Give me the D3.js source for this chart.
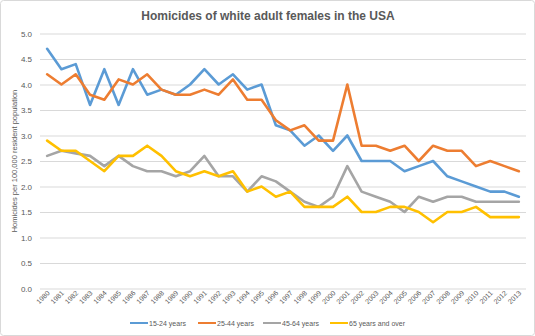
<!DOCTYPE html>
<html><head><meta charset="utf-8">
<script src="https://cdn.jsdelivr.net/npm/d3@7"></script>
<style>body{margin:0;background:#fff}svg{display:block;font-family:"Liberation Sans",Arial,sans-serif}</style>
</head><body><svg id="c" width="535" height="336"></svg>
<script>
const years = d3.range(1980, 2014).map(String);
const seriesNames = ["15-24 years","25-44 years","45-64 years","65 years and over"];
const colors = ["#5B9BD5","#ED7D31","#A5A5A5","#FFC000"];
const s15_24 = [4.7,4.3,4.4,3.6,4.3,3.6,4.3,3.8,3.9,3.8,4.0,4.3,4.0,4.2,3.9,4.0,3.2,3.1,2.8,3.0,2.7,3.0,2.5,2.5,2.5,2.3,2.4,2.5,2.2,2.1,2.0,1.9,1.9,1.8];
const s25_44 = [4.2,4.0,4.2,3.8,3.7,4.1,4.0,4.2,3.9,3.8,3.8,3.9,3.8,4.1,3.7,3.7,3.3,3.1,3.2,2.9,2.9,4.0,2.8,2.8,2.7,2.8,2.5,2.8,2.7,2.7,2.4,2.5,2.4,2.3];
const s45_64 = [2.6,2.7,2.65,2.6,2.4,2.6,2.4,2.3,2.3,2.2,2.3,2.6,2.2,2.2,1.9,2.2,2.1,1.9,1.7,1.6,1.8,2.4,1.9,1.8,1.7,1.5,1.8,1.7,1.8,1.8,1.7,1.7,1.7,1.7];
const s65 = [2.9,2.7,2.7,2.5,2.3,2.6,2.6,2.8,2.6,2.3,2.2,2.3,2.2,2.3,1.9,2.0,1.8,1.9,1.6,1.6,1.6,1.8,1.5,1.5,1.6,1.6,1.5,1.3,1.5,1.5,1.6,1.4,1.4,1.4];
const yTicks = [0,0.5,1,1.5,2,2.5,3,3.5,4,4.5,5];
const title = "Homicides of white adult females in the USA";
const yTitle = "Homicides per 100,000 resident population";
const allSeries = [s15_24, s25_44, s45_64, s65];

const svg = d3.select("#c");
svg.append("rect").attr("x",0.5).attr("y",0.5).attr("width",534).attr("height",335)
  .attr("rx",3).attr("fill","#fff").attr("stroke","#D9D9D9");

const m = {l:40, r:9, t:33.5, b:48};
const x = d3.scaleBand().domain(years).range([m.l, 535-m.r]);
const y = d3.scaleLinear().domain([0,5]).range([288.5, 33.5]);

svg.append("text").attr("x",268).attr("y",20).attr("text-anchor","middle")
  .attr("font-size",12).attr("font-weight","bold").attr("fill","#595959").text(title);

// grid
const gy = svg.append("g").attr("transform",`translate(${m.l},0)`)
  .call(d3.axisLeft(y).tickValues(yTicks).tickFormat(d3.format(".1f")).tickSize(-(535-m.r-m.l)).tickPadding(8));
gy.select(".domain").remove();
gy.selectAll(".tick line").attr("stroke","#D9D9D9");
gy.selectAll(".tick text").attr("fill","#595959").attr("font-size",8).attr("font-family","inherit");

// x axis
const gx = svg.append("g").attr("transform",`translate(0,${y(0)})`)
  .call(d3.axisBottom(x).tickSize(0).tickPadding(0));
gx.select(".domain").remove();
gx.selectAll(".tick text").attr("fill","#595959").attr("font-size",7).attr("font-family","inherit")
  .attr("text-anchor","end").attr("dy",0).attr("y",0)
  .attr("transform","translate(3,5) rotate(-45)");

// y title
svg.append("text").attr("transform",`translate(17,${(y(0)+y(5))/2}) rotate(-90)`)
  .attr("text-anchor","middle").attr("font-size",7.5).attr("fill","#595959").text(yTitle);

const line = d3.line().x((d,i)=>x(years[i])+x.bandwidth()/2).y(d=>y(d));
allSeries.forEach((s,k)=>{
  svg.append("path").datum(s).attr("d",line).attr("fill","none")
    .attr("stroke",colors[k]).attr("stroke-width",2.6).attr("stroke-linejoin","round").attr("stroke-linecap","round");
});

// legend
const legX = [130, 198, 263, 330];
const lg = svg.append("g");
seriesNames.forEach((n,k)=>{
  lg.append("line").attr("x1",legX[k]).attr("x2",legX[k]+18).attr("y1",323).attr("y2",323)
    .attr("stroke",colors[k]).attr("stroke-width",2);
  lg.append("text").attr("x",legX[k]+19).attr("y",325.5).attr("font-size",7).attr("fill","#595959").text(n);
});
</script></body></html>
